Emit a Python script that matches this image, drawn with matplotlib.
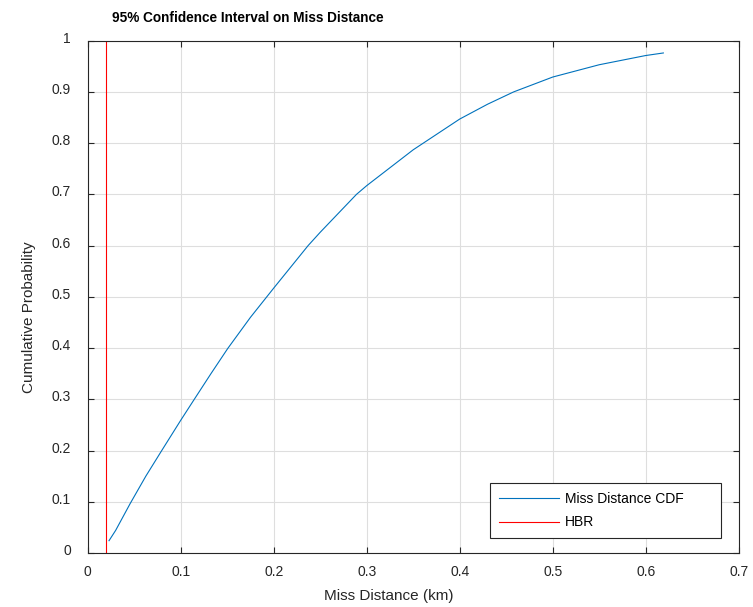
import numpy as np
import matplotlib
matplotlib.use('Agg')
import matplotlib.pyplot as mpl
import matplotlib.transforms as mtrans

# values
miss_km = [0.0229, 0.030, 0.0455, 0.0625, 0.0796, 0.100, 0.1146, 0.1325,
           0.1505, 0.175, 0.200, 0.237, 0.250, 0.289, 0.300, 0.350, 0.400,
           0.430, 0.458, 0.500, 0.550, 0.600, 0.619]
cdf = [0.024, 0.044, 0.096, 0.150, 0.200, 0.259, 0.300, 0.350,
       0.399, 0.460, 0.517, 0.600, 0.626, 0.700, 0.717, 0.787, 0.847,
       0.876, 0.900, 0.929, 0.953, 0.971, 0.976]
hbr_km = 0.02
xticks = [0, 0.1, 0.2, 0.3, 0.4, 0.5, 0.6, 0.7]
yticks = [0, 0.1, 0.2, 0.3, 0.4, 0.5, 0.6, 0.7, 0.8, 0.9, 1]

mpl.rcParams['font.family'] = ['Liberation Sans', 'DejaVu Sans']
dark = '#262626'

fig = mpl.figure(figsize=(7.53, 6.07), dpi=100)
ax = fig.add_axes([0.1165, 0.089, 0.8645, 0.844])

ax.plot(miss_km, cdf, color='#0072BD', lw=0.8, label='Miss Distance CDF')
ax.plot([hbr_km, hbr_km], [0, 1], color='#FF0000', lw=0.8, label='HBR')

ax.set_xlim(0, 0.7)
ax.set_ylim(0, 1)
ax.set_xticks(xticks)
ax.set_xticklabels(['0', '0.1', '0.2', '0.3', '0.4', '0.5', '0.6', '0.7'])
ax.set_yticks(yticks)
ax.set_yticklabels(['0', '0.1', '0.2', '0.3', '0.4', '0.5', '0.6', '0.7', '0.8', '0.9', '1'])
ax.tick_params(direction='in', length=4.5, width=0.8, colors=dark,
               labelsize=10, top=True, right=True)
ax.tick_params(axis='x', pad=9)
ax.tick_params(axis='y', pad=12)
up = mtrans.ScaledTranslation(0, 3.5 / 100, fig.dpi_scale_trans)
for lab in ax.get_yticklabels():
    lab.set_transform(lab.get_transform() + up)
for s in ax.spines.values():
    s.set_color(dark)
    s.set_linewidth(0.8)
ax.grid(True, color='#dedede', lw=0.8)
ax.set_axisbelow(True)

fig.text(0.329, 0.970, '95% Confidence Interval on Miss Distance',
         ha='center', va='center', fontsize=9.8, fontweight='bold')
fig.text(0.516, 0.018, 'Miss Distance (km)', ha='center', va='center',
         fontsize=11, color=dark)
fig.text(0.038, 0.478, 'Cumulative Probability', ha='center', va='center',
         rotation=90, fontsize=11, color=dark)

leg = ax.legend(loc='lower left', bbox_to_anchor=(0.6185, 0.0285, 0.355, 0.106),
                mode='expand', fontsize=10, handlelength=4.3, handletextpad=0.4,
                borderaxespad=0, borderpad=0.64, labelspacing=0.7,
                fancybox=False, edgecolor=dark, framealpha=1)
leg.get_frame().set_linewidth(0.8)

fig.savefig('out.png', dpi=100)
